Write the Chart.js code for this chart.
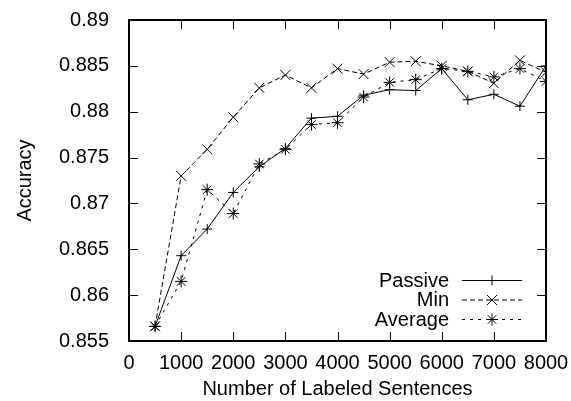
<!DOCTYPE html>
<html>
<head>
<meta charset="utf-8">
<script src="https://cdn.jsdelivr.net/npm/chart.js@4.4.0/dist/chart.umd.min.js"></script>
<style>
  body { margin: 0; background: #fff; }
  #wrap { width: 571px; height: 401px; }
</style>
</head>
<body>
<div id="wrap"><canvas id="chart" width="571" height="401"></canvas></div>
<script>
// Data
const sizes = [500, 1000, 1500, 2000, 2500, 3000, 3500, 4000, 4500, 5000, 5500, 6000, 6500, 7000, 7500, 8000];
const passive = [0.8566, 0.8643, 0.8672, 0.8712, 0.8740, 0.8760, 0.8793, 0.8795, 0.8818, 0.8824, 0.8823, 0.8847, 0.8813, 0.8819, 0.8806, 0.8850];
const minAcc = [0.8566, 0.8730, 0.8759, 0.8794, 0.8826, 0.8840, 0.8826, 0.8847, 0.8841, 0.8854, 0.8855, 0.8850, 0.8844, 0.8831, 0.8856, 0.8843];
const average = [0.8566, 0.8615, 0.8715, 0.8689, 0.8743, 0.8759, 0.8786, 0.8788, 0.8816, 0.8832, 0.8835, 0.8847, 0.8844, 0.8838, 0.8847, 0.8833];
const seriesNames = ['Passive', 'Min', 'Average'];

const FONT = 'Liberation Sans';
const FONT_SIZE = 20;

function points(values) {
  return sizes.map((x, i) => ({ x: x, y: values[i] }));
}

const styles = [
  { pointStyle: 'cross', pointRadius: 5, borderDash: [] },
  { pointStyle: 'crossRot', pointRadius: 7, borderDash: [5, 3] },
  { pointStyle: 'star', pointRadius: 6, borderDash: [3, 5] }
];

const datasets = [passive, minAcc, average].map((vals, i) => ({
  label: seriesNames[i],
  data: points(vals),
  borderColor: '#000',
  borderWidth: 1,
  borderDash: styles[i].borderDash,
  pointStyle: styles[i].pointStyle,
  pointRadius: styles[i].pointRadius,
  pointBorderColor: '#000',
  pointBorderWidth: 1,
  pointBackgroundColor: 'transparent',
  tension: 0,
  fill: false
}));

// gnuplot-like frame with inward ticks on all four sides
const framePlugin = {
  id: 'frame',
  afterDatasetsDraw(chart) {
    const ctx = chart.ctx;
    const a = chart.chartArea;
    const xs = chart.scales.x, ys = chart.scales.y;
    const tl = 9;
    ctx.save();
    ctx.strokeStyle = '#000';
    ctx.lineWidth = 1;
    ctx.beginPath();
    xs.ticks.forEach(t => {
      const px = Math.round(xs.getPixelForValue(t.value)) + 0.5;
      ctx.moveTo(px, a.bottom); ctx.lineTo(px, a.bottom - tl);
      ctx.moveTo(px, a.top); ctx.lineTo(px, a.top + tl);
    });
    ys.ticks.forEach(t => {
      const py = Math.round(ys.getPixelForValue(t.value)) + 0.5;
      ctx.moveTo(a.left, py); ctx.lineTo(a.left + tl, py);
      ctx.moveTo(a.right, py); ctx.lineTo(a.right - tl, py);
    });
    ctx.stroke();
    ctx.lineWidth = 2;
    ctx.strokeRect(a.left, a.top, a.right - a.left, a.bottom - a.top);
    ctx.restore();
  }
};

// key in the lower right: text right aligned, then line sample with marker
const keyPlugin = {
  id: 'key',
  afterDatasetsDraw(chart) {
    const ctx = chart.ctx;
    const a = chart.chartArea;
    ctx.save();
    ctx.font = FONT_SIZE + 'px "' + FONT + '"';
    ctx.textAlign = 'right';
    ctx.textBaseline = 'middle';
    ctx.fillStyle = '#000';
    chart.data.datasets.forEach((ds, i) => {
      const y = a.bottom - 61 + i * 19.5;
      ctx.fillText(ds.label, a.right - 97, y + 1);
      ctx.strokeStyle = '#000';
      ctx.lineWidth = 1;
      ctx.setLineDash(ds.borderDash);
      ctx.beginPath();
      ctx.moveTo(a.right - 84, y + 0.5);
      ctx.lineTo(a.right - 24, y + 0.5);
      ctx.stroke();
      ctx.setLineDash([]);
      Chart.helpers.drawPoint(ctx, {
        pointStyle: ds.pointStyle,
        radius: ds.pointRadius,
        borderWidth: 1,
        rotation: 0
      }, a.right - 54, y + 0.5);
    });
    ctx.restore();
  }
};

new Chart(document.getElementById('chart'), {
  type: 'line',
  data: { datasets: datasets },
  options: {
    responsive: false,
    animation: false,
    layout: { padding: { top: 20, right: 25, left: 0, bottom: 0 } },
    plugins: {
      legend: { display: false },
      tooltip: { enabled: false }
    },
    scales: {
      x: {
        type: 'linear',
        min: 0,
        max: 8000,
        grid: { display: false },
        border: { display: false },
        ticks: {
          stepSize: 1000,
          maxRotation: 0,
          autoSkip: false,
          padding: 2,
          color: '#000',
          font: { family: FONT, size: FONT_SIZE },
          callback: v => String(v)
        },
        title: {
          display: true,
          text: 'Number of Labeled Sentences',
          color: '#000',
          font: { family: FONT, size: FONT_SIZE },
          padding: { top: 0, bottom: 0 }
        },
        afterFit: s => { s.height = 60; s.paddingLeft = 0; s.paddingRight = 0; }
      },
      y: {
        min: 0.855,
        max: 0.89,
        grid: { display: false },
        border: { display: false },
        ticks: {
          stepSize: 0.005,
          padding: 12,
          color: '#000',
          font: { family: FONT, size: FONT_SIZE },
          callback: v => String(Number(v.toFixed(3)))
        },
        title: {
          display: true,
          text: 'Accuracy',
          color: '#000',
          font: { family: FONT, size: FONT_SIZE },
          padding: { top: 13, bottom: 0 }
        },
        afterFit: s => { s.width = 129; s.paddingTop = 0; s.paddingBottom = 0; }
      }
    }
  },
  plugins: [framePlugin, keyPlugin]
});
</script>
</body>
</html>
